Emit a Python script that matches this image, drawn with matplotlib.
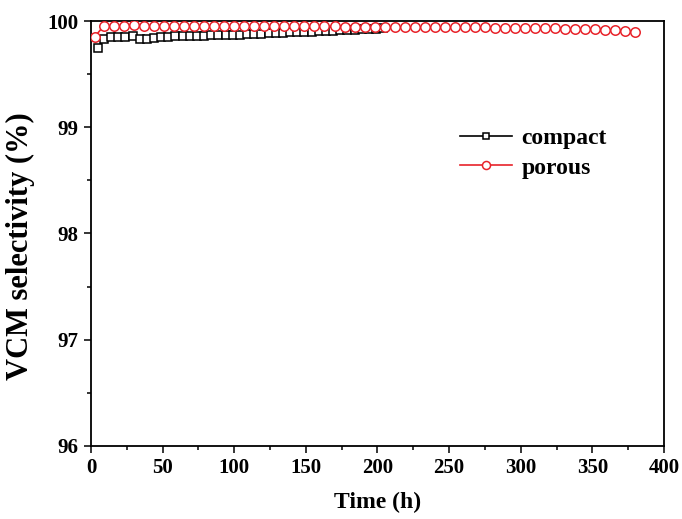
import matplotlib
matplotlib.use("Agg")
import matplotlib.pyplot as plt
from matplotlib.ticker import MultipleLocator

compact_t = [5, 9, 14, 19, 24, 29, 34, 39, 44, 49, 54, 59, 64, 69, 74, 79, 84, 89, 94, 99,
             104, 109, 114, 119, 124, 129, 134, 139, 144, 149, 154, 159, 164, 169, 174, 179,
             184, 189, 194, 199, 204]
compact_v = [99.75, 99.835, 99.845, 99.85, 99.85, 99.855, 99.835, 99.835, 99.84, 99.845,
             99.85, 99.855, 99.855, 99.858, 99.86, 99.862, 99.864, 99.866, 99.868, 99.87,
             99.872, 99.875, 99.878, 99.88, 99.883, 99.886, 99.889, 99.892, 99.895, 99.898,
             99.90, 99.903, 99.906, 99.909, 99.912, 99.915, 99.918, 99.921, 99.924, 99.927,
             99.93]

porous_t = [2.5, 9, 16, 23, 30, 37, 44, 51, 58, 65, 72, 79, 86, 93, 100, 107, 114, 121, 128,
            135, 142, 149, 156, 163, 170, 177, 184, 191, 198, 205, 212, 219, 226, 233, 240,
            247, 254, 261, 268, 275, 282, 289, 296, 303, 310, 317, 324, 331, 338, 345, 352,
            359, 366, 373, 380]
porous_v = [99.85, 99.955, 99.957, 99.957, 99.958, 99.957, 99.957, 99.956, 99.955, 99.955,
            99.954, 99.954, 99.953, 99.953, 99.952, 99.952, 99.951, 99.951, 99.951, 99.950,
            99.950, 99.950, 99.949, 99.949, 99.949, 99.948, 99.948, 99.948, 99.947, 99.947,
            99.946, 99.946, 99.945, 99.945, 99.944, 99.944, 99.943, 99.942, 99.941, 99.940,
            99.939, 99.938, 99.937, 99.936, 99.934, 99.932, 99.930, 99.928, 99.926, 99.924,
            99.921, 99.918, 99.912, 99.905, 99.892]

x_ticks = [0, 50, 100, 150, 200, 250, 300, 350, 400]
y_ticks = [96, 97, 98, 99, 100]

plt.rcParams['font.family'] = ['Liberation Serif', 'DejaVu Serif']
plt.rcParams['font.weight'] = 'bold'

fig = plt.figure(figsize=(6.82, 5.19), dpi=100)
ax = fig.add_axes([0.1334, 0.1407, 0.8402, 0.8188])

ax.plot(compact_t, compact_v, color='black', lw=1.2, marker='s', ms=5.5,
        mfc='white', mec='black', mew=1.1, label='compact', zorder=3)
ax.plot(porous_t, porous_v, color='#e8232a', lw=1.2, marker='o', ms=6.8,
        mfc='white', mec='#e8232a', mew=1.1, label='porous', zorder=4)

ax.set_xlim(0, 400)
ax.set_ylim(96, 100)
ax.set_xticks(x_ticks)
ax.set_yticks(y_ticks)
ax.xaxis.set_minor_locator(MultipleLocator(25))
ax.yaxis.set_minor_locator(MultipleLocator(0.5))
ax.tick_params(which='both', direction='out', top=False, right=False, width=1.1,
               labelsize=15)
ax.tick_params(which='major', length=5, pad=4)
ax.tick_params(which='minor', length=3)
for s in ax.spines.values():
    s.set_linewidth(1.3)
for lab in ax.get_xticklabels() + ax.get_yticklabels():
    lab.set_fontweight('bold')

ax.set_xlabel('Time (h)', fontsize=17, fontweight='bold', labelpad=10)
ax.set_ylabel('VCM selectivity (%)', fontsize=22, fontweight='bold')
ax.yaxis.set_label_coords(-0.098, 0.47)

leg = ax.legend(loc='upper left', bbox_to_anchor=(0.607, 0.80), frameon=False,
                prop={'size': 17, 'weight': 'bold'}, handlelength=2.2,
                handletextpad=0.4, labelspacing=0.35, markerscale=0.85)

fig.savefig('out.png', dpi=100)
